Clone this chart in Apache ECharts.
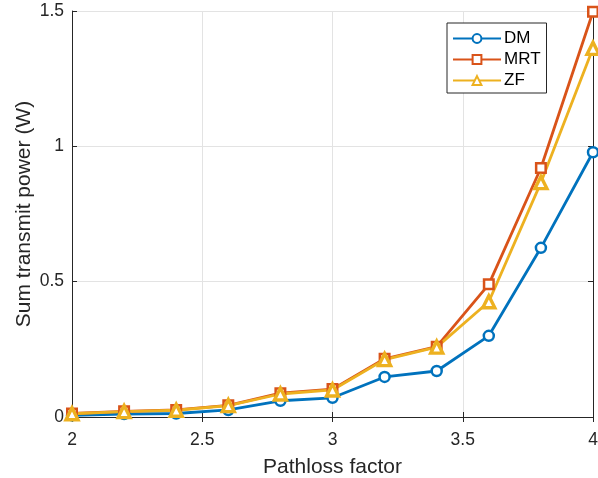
<!DOCTYPE html>
<html>
<head>
<meta charset="utf-8">
<script src="https://cdn.jsdelivr.net/npm/echarts@6/dist/echarts.min.js"></script>
<style>
  html, body { margin: 0; padding: 0; background: #ffffff; }
  #chart { width: 598px; height: 478px; }
</style>
</head>
<body>
<div id="chart"></div>
<script>
// Pathloss factor values (x axis)
const pathloss = [2.0, 2.2, 2.4, 2.6, 2.8, 3.0, 3.2, 3.4, 3.6, 3.8, 4.0];

// Sum transmit power (W) per scheme
const dmPower  = [0.006, 0.011, 0.013, 0.026, 0.060, 0.071, 0.148, 0.170, 0.300, 0.625, 0.978];
const mrtPower = [0.013, 0.021, 0.026, 0.043, 0.088, 0.103, 0.215, 0.260, 0.490, 0.920, 1.497];
const zfPower  = [0.012, 0.020, 0.025, 0.042, 0.085, 0.100, 0.212, 0.258, 0.426, 0.866, 1.362];

const xTicks = [2, 2.5, 3, 3.5, 4];
const yTicks = [0, 0.5, 1, 1.5];

const axisColor = '#262626';
const fontFamily = '"Liberation Sans", Arial, Helvetica, sans-serif';

function pairs(ys) {
  return pathloss.map((x, i) => [x, ys[i]]);
}

function makeSeries(name, ys, color, symbol, size, border) {
  return {
    name: name,
    type: 'line',
    data: pairs(ys),
    xAxisIndex: 0,
    yAxisIndex: 0,
    clip: false,
    symbol: symbol,
    symbolSize: size,
    showAllSymbol: true,
    lineStyle: { color: color, width: 2.8 },
    itemStyle: { color: '#ffffff', borderColor: color, borderWidth: border },
    emphasis: { disabled: true },
    animation: false
  };
}

const chart = echarts.init(document.getElementById('chart'), null, { renderer: 'canvas' });

const baseAxis = {
  axisLine: { show: true, lineStyle: { color: axisColor, width: 1 } },
  axisTick: { show: true, inside: true, length: 5, lineStyle: { color: axisColor } },
  splitLine: { show: false }
};

chart.setOption({
  animation: false,
  backgroundColor: '#ffffff',
  textStyle: { fontFamily: fontFamily },
  grid: {
    left: 72, right: 5, top: 11, bottom: 61,
    containLabel: false,
    outerBoundsMode: 'none'
  },
  legend: {
    orient: 'vertical',
    left: 447,
    top: 23,
    padding: [5, 6, 2, 5],
    itemGap: 0,
    itemWidth: 48,
    itemHeight: 11,
    backgroundColor: '#ffffff',
    borderColor: axisColor,
    borderWidth: 1,
    textStyle: {
      color: '#000000', fontSize: 17, lineHeight: 21,
      fontFamily: fontFamily, padding: [0, 0, 0, -2]
    },
    data: ['DM', 'MRT', 'ZF']
  },
  xAxis: [
    Object.assign({}, baseAxis, {
      type: 'value',
      min: 2, max: 4, interval: 0.5,
      position: 'bottom',
      name: 'Pathloss factor',
      nameLocation: 'middle',
      nameGap: 40,
      nameMoveOverlap: false,
      nameTextStyle: { color: axisColor, fontSize: 21, fontFamily: fontFamily },
      axisLabel: {
        color: axisColor, fontSize: 17.5, margin: 14, fontFamily: fontFamily,
        formatter: v => (xTicks.includes(v) ? String(v) : '')
      },
      splitLine: { show: true, lineStyle: { color: '#e3e3e3', width: 1 } }
    }),
    Object.assign({}, baseAxis, {
      type: 'value',
      min: 2, max: 4, interval: 0.5,
      position: 'top',
      axisLabel: { show: false }
    })
  ],
  yAxis: [
    Object.assign({}, baseAxis, {
      type: 'value',
      min: 0, max: 1.5, interval: 0.5,
      position: 'left',
      name: 'Sum transmit power (W)',
      nameLocation: 'middle',
      nameGap: 37,
      nameMoveOverlap: false,
      nameTextStyle: { color: axisColor, fontSize: 21, fontFamily: fontFamily },
      axisLabel: {
        color: axisColor, fontSize: 17.5, margin: 8, fontFamily: fontFamily,
        formatter: v => (yTicks.includes(v) ? String(v) : '')
      },
      splitLine: { show: true, lineStyle: { color: '#e3e3e3', width: 1 } }
    }),
    Object.assign({}, baseAxis, {
      type: 'value',
      min: 0, max: 1.5, interval: 0.5,
      position: 'right',
      axisLabel: { show: false }
    })
  ],
  series: [
    makeSeries('DM', dmPower, '#0072BD', 'circle', 10, 2.5),
    makeSeries('MRT', mrtPower, '#D95319', 'rect', 9.5, 2.5),
    makeSeries('ZF', zfPower, '#EDB120', 'triangle', 12, 3.4)
  ]
});
</script>
</body>
</html>
